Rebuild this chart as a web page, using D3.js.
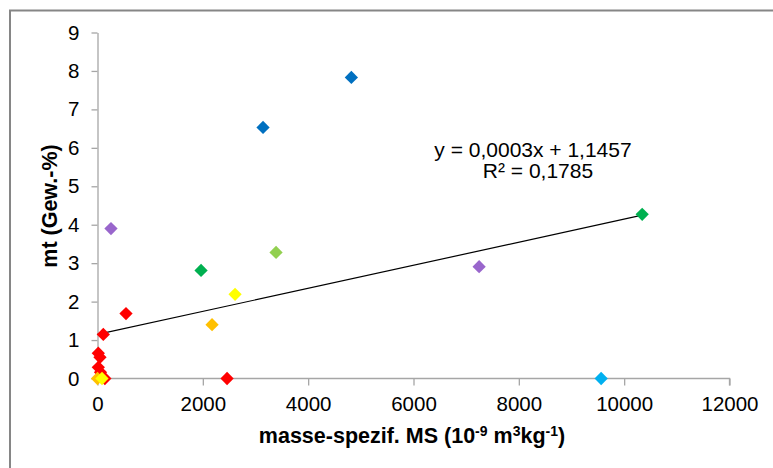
<!DOCTYPE html>
<html>
<head>
<meta charset="utf-8">
<script src="https://cdn.jsdelivr.net/npm/d3@7"></script>
<style>
  html, body { margin: 0; padding: 0; background: #fff; }
  svg { display: block; }
  text { font-family: "Liberation Sans", Arial, sans-serif; fill: #000; }
</style>
</head>
<body>
<svg id="chart" width="773" height="468"></svg>
<script>
// Measured values: masse-spezifische MS (x) vs. mt in Gew.-% (y), one colour per sample group
const redX    = [15, 47, 15, 57, 140, 110, 541, 2460];
const redY    = [0.66, 0.55, 0.29, 0.16, 0.0, 1.145, 1.69, 0.0];
const orangeX = [0, 2175];
const orangeY = [0.0, 1.40];
const yellowX = [85, 2612];
const yellowY = [0.0, 2.19];
const greenX  = [1966, 10342];
const greenY  = [2.81, 4.27];
const lightGreenX = [3390];
const lightGreenY = [3.28];
const purpleX = [256, 7246];
const purpleY = [3.90, 2.91];
const blueX   = [3143, 4820];
const blueY   = [6.53, 7.83];
const cyanX   = [9563];
const cyanY   = [0.0];

// Linear trend line as stated in the label
const slope = 0.0003;
const intercept = 1.1457;
const rSquared = 0.1785;

const xTicks = [0, 2000, 4000, 6000, 8000, 10000, 12000];
const yTicks = [0, 1, 2, 3, 4, 5, 6, 7, 8, 9];

const series = [
  { xs: redX, ys: redY, color: "#ff0000" },
  { xs: orangeX, ys: orangeY, color: "#ffc000" },
  { xs: yellowX, ys: yellowY, color: "#ffff00" },
  { xs: greenX, ys: greenY, color: "#00b050" },
  { xs: lightGreenX, ys: lightGreenY, color: "#92d050" },
  { xs: purpleX, ys: purpleY, color: "#9966cc" },
  { xs: blueX, ys: blueY, color: "#0070c0" },
  { xs: cyanX, ys: cyanY, color: "#00b0f0" }
];

const svg = d3.select("#chart");
const fmt = v => String(v).replace(".", ",");

// Outer chart frame
svg.append("rect")
  .attr("x", 10).attr("y", 10.5)
  .attr("width", 900).attr("height", 600)
  .attr("fill", "none").attr("stroke", "#868686").attr("stroke-width", 2);

const x = d3.scaleLinear().domain([0, 12000]).range([97.5, 729.5]);
const y = d3.scaleLinear().domain([0, 9]).range([378.5, 32.5]);

const axisColor = "#a6a6a6";

const gx = svg.append("g")
  .attr("transform", `translate(0,${y(0)})`)
  .call(d3.axisBottom(x).tickValues(xTicks).tickFormat(d => String(d))
        .tickSizeInner(7).tickSizeOuter(0).tickPadding(11));
const gy = svg.append("g")
  .attr("transform", `translate(${x(0)},0)`)
  .call(d3.axisLeft(y).tickValues(yTicks).tickFormat(d => String(d))
        .tickSizeInner(6).tickSizeOuter(0).tickPadding(12));

[gx, gy].forEach(g => {
  g.select(".domain").attr("stroke", axisColor).attr("stroke-width", 1.3);
  g.selectAll(".tick line").attr("stroke", axisColor).attr("stroke-width", 1.3);
  g.selectAll(".tick text")
    .attr("fill", "#000")
    .style("font-family", '"Liberation Sans", Arial, sans-serif')
    .style("font-size", "20.5px");
});

// Extend the x axis line a few pixels to the right of the last tick
gx.select(".domain").attr("d", `M${x(0)},0H${x(12000)}V7`);

// Trend line over the data range
const xMin = d3.min(series.flatMap(s => s.xs));
const xMax = d3.max(series.flatMap(s => s.xs));
svg.append("line")
  .attr("x1", x(xMin)).attr("y1", y(slope * xMin + intercept))
  .attr("x2", x(xMax)).attr("y2", y(slope * xMax + intercept))
  .attr("stroke", "#000").attr("stroke-width", 1.2);

// Diamond markers
const diamond = d3.symbol().type(d3.symbolDiamond2).size(112);
series.forEach(s => {
  svg.append("g").selectAll("path")
    .data(s.xs.map((v, i) => [v, s.ys[i]]))
    .join("path")
    .attr("d", diamond)
    .attr("transform", d => `translate(${x(d[0])},${y(d[1])})`)
    .attr("fill", s.color);
});

// Regression label
const eq = svg.append("text")
  .attr("text-anchor", "middle")
  .style("font-size", "21px");
eq.append("tspan").attr("x", 533).attr("y", 157)
  .text(`y = ${fmt(slope)}x + ${fmt(intercept)}`);
eq.append("tspan").attr("x", 538).attr("y", 178)
  .text(`R² = ${fmt(rSquared)}`);

// Axis titles
const xt = svg.append("text")
  .attr("x", 412).attr("y", 443)
  .attr("text-anchor", "middle")
  .style("font-size", "21.5px").style("font-weight", "bold");
xt.append("tspan").text("masse-spezif. MS (10");
xt.append("tspan").attr("dy", -7).style("font-size", "14px").text("-9");
xt.append("tspan").attr("dy", 7).text(" m");
xt.append("tspan").attr("dy", -7).style("font-size", "14px").text("3");
xt.append("tspan").attr("dy", 7).text("kg");
xt.append("tspan").attr("dy", -7).style("font-size", "14px").text("-1");
xt.append("tspan").attr("dy", 7).text(")");

svg.append("text")
  .attr("transform", "translate(57,206) rotate(-90)")
  .attr("text-anchor", "middle")
  .style("font-size", "21.5px").style("font-weight", "bold")
  .text("mt (Gew.-%)");
</script>
</body>
</html>
